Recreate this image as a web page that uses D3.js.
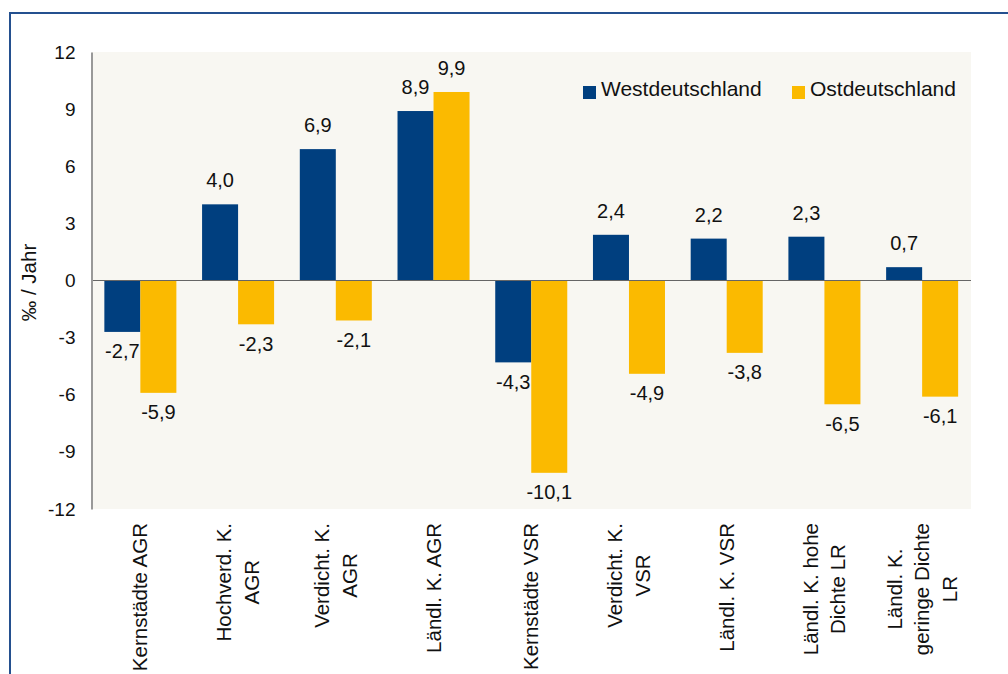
<!DOCTYPE html>
<html>
<head>
<meta charset="utf-8">
<script src="https://cdn.jsdelivr.net/npm/d3@7"></script>
<style>
  body { margin: 0; background: #fff; }
  svg text { font-family: Arial, "Liberation Sans", sans-serif; fill: #111; }
</style>
</head>
<body>
<div id="chart"></div>
<script>
    // categories (line breaks as in the original axis)
    const categories = [
      ['Kernstädte AGR'],
      ['Hochverd. K.', 'AGR'],
      ['Verdicht. K.', 'AGR'],
      ['Ländl. K. AGR'],
      ['Kernstädte VSR'],
      ['Verdicht. K.', 'VSR'],
      ['Ländl. K. VSR'],
      ['Ländl. K. hohe', 'Dichte LR'],
      ['Ländl. K.', 'geringe Dichte', 'LR']
    ];
    const seriesNames = ['Westdeutschland', 'Ostdeutschland'];
    const west = [-2.7, 4.0, 6.9, 8.9, -4.3, 2.4, 2.2, 2.3, 0.7];
    const ost = [-5.9, -2.3, -2.1, 9.9, -10.1, -4.9, -3.8, -6.5, -6.1];
    const yTicks = [-12, -9, -6, -3, 0, 3, 6, 9, 12];

    const colors = ['#003f7f', '#fbba00'];

    const width = 1008, height = 674;
    const plot = { left: 91.5, right: 971, top: 52, bottom: 509 };

    const svg = d3.select('#chart').append('svg')
      .attr('width', width)
      .attr('height', height);

    // blue frame (right / bottom edges are outside the picture)
    svg.append('path')
      .attr('d', `M10,${height + 5} L10,13 L${width + 5},13`)
      .attr('fill', 'none')
      .attr('stroke', '#24508f')
      .attr('stroke-width', 2);

    svg.append('rect')
      .attr('x', plot.left).attr('y', plot.top)
      .attr('width', plot.right - plot.left)
      .attr('height', plot.bottom - plot.top)
      .attr('fill', '#f8f7f2');

    const x0 = d3.scaleBand()
      .domain(d3.range(categories.length))
      .range([plot.left, plot.right])
      .paddingInner(0.263)
      .paddingOuter(0.1315);

    const x1 = d3.scaleBand()
      .domain([0, 1])
      .range([0, x0.bandwidth()]);

    const y = d3.scaleLinear()
      .domain([-12, 12])
      .range([plot.bottom, plot.top]);

    const fmt = v => d3.format('.1f')(v).replace('.', ',').replace('−', '-');

    const rows = categories.map((c, i) => ({ i, vals: [west[i], ost[i]] }));

    const group = svg.selectAll('g.cat')
      .data(rows)
      .enter().append('g')
      .attr('class', 'cat')
      .attr('transform', d => `translate(${x0(d.i)},0)`);

    group.selectAll('rect')
      .data(d => d.vals.map((v, s) => ({ v, s })))
      .enter().append('rect')
      .attr('x', d => x1(d.s))
      .attr('width', x1.bandwidth())
      .attr('y', d => y(Math.max(0, d.v)))
      .attr('height', d => Math.abs(y(d.v) - y(0)))
      .attr('fill', d => colors[d.s]);

    group.selectAll('text.val')
      .data(d => d.vals.map((v, s) => ({ v, s })))
      .enter().append('text')
      .attr('class', 'val')
      .attr('x', d => x1(d.s) + x1.bandwidth() / 2)
      .attr('y', d => d.v >= 0 ? y(d.v) - 17 : y(d.v) + 26.5)
      .attr('text-anchor', 'middle')
      .style('font-size', '20px')
      .text(d => fmt(d.v));

    // zero line
    svg.append('line')
      .attr('x1', plot.left).attr('x2', plot.right)
      .attr('y1', y(0)).attr('y2', y(0))
      .attr('stroke', '#666')
      .attr('stroke-width', 1.2);

    // y axis
    const yAxis = svg.append('g')
      .attr('transform', `translate(${plot.left},0)`)
      .call(d3.axisLeft(y).tickValues(yTicks).tickSize(0).tickPadding(16)
        .tickFormat(d => d3.format('d')(d).replace('−', '-')));
    yAxis.select('.domain').attr('stroke', '#999').attr('stroke-width', 2);
    yAxis.selectAll('text')
      .style('font-size', '19px')
      .style('font-family', 'Arial, "Liberation Sans", sans-serif')
      .attr('fill', '#111');

    svg.append('text')
      .attr('transform', `translate(36,${y(0) + 2}) rotate(-90)`)
      .attr('text-anchor', 'middle')
      .style('font-size', '20.5px')
      .text('‰ / Jahr');

    // category labels, rotated, lines centred, longest line ending at y=523
    const lineGap = 27.5;
    const labels = svg.selectAll('text.cat-label')
      .data(categories)
      .enter().append('text')
      .attr('class', 'cat-label')
      .style('font-size', '20.5px')
      .attr('text-anchor', 'middle');

    labels.selectAll('tspan')
      .data(d => d)
      .enter().append('tspan')
      .attr('x', 0)
      .attr('y', (d, j, nodes) => (j - (nodes.length - 1) / 2) * lineGap + 7)
      .text(d => d);

    labels.each(function (d, i) {
      let maxLen = 0;
      d3.select(this).selectAll('tspan').each(function () {
        maxLen = Math.max(maxLen, this.getComputedTextLength());
      });
      const cx = x0(i) + x0.bandwidth() / 2;
      d3.select(this).attr('transform', `translate(${cx},${523 + maxLen / 2}) rotate(-90)`);
    });

    // legend
    const legend = svg.append('g');
    const legendX = [583, 792];
    seriesNames.forEach((name, s) => {
      legend.append('rect')
        .attr('x', legendX[s]).attr('y', 86)
        .attr('width', 13).attr('height', 13)
        .attr('fill', colors[s]);
      legend.append('text')
        .attr('x', legendX[s] + 18).attr('y', 96)
        .style('font-size', '21px')
        .text(name);
    });
</script>
</body>
</html>
